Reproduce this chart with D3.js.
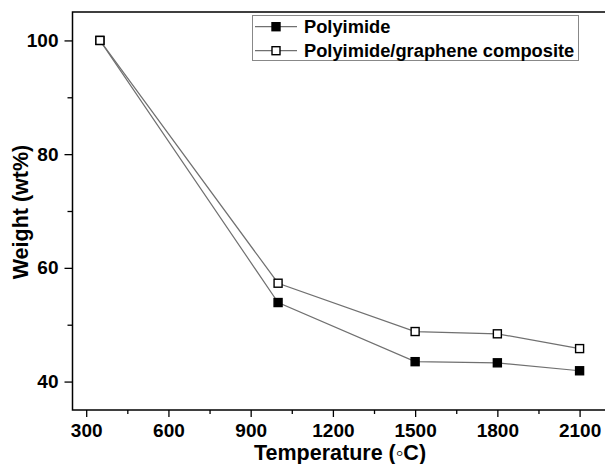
<!DOCTYPE html>
<html>
<head>
<meta charset="utf-8">
<script src="https://cdn.jsdelivr.net/npm/d3@7"></script>
<style>
  body { margin: 0; background: #fff; }
  svg { display: block; font-family: 'Liberation Sans', Arial, sans-serif; }
  .axis text { font-family: 'Liberation Sans', Arial, sans-serif; font-size: 19px; font-weight: bold; fill: #000; }
  .axis line { stroke: #000; stroke-width: 1.3; }
</style>
</head>
<body>
<svg id="chart" width="605" height="464"></svg>
<script>
// temperature (C)
var temps = [350, 1000, 1500, 1800, 2100];
// weight (wt%)
var polyimide = [100, 53.9, 43.5, 43.3, 41.9];
var composite = [100, 57.3, 48.8, 48.4, 45.8];
var seriesNames = ['Polyimide', 'Polyimide/graphene composite'];
var xTicks = [300, 600, 900, 1200, 1500, 1800, 2100];
var xMinor = [450, 750, 1050, 1350, 1650, 1950];
var yTicks = [40, 60, 80, 100];
var yMinor = [50, 70, 90];

var svg = d3.select('#chart');
var x = d3.scaleLinear().domain([250, 2200]).range([72.5, 607]);
var y = d3.scaleLinear().domain([35, 105]).range([410, 12]);

// axes
var xAxis = d3.axisBottom(x).tickValues(xTicks).tickSize(7).tickSizeOuter(0).tickPadding(7).tickFormat(d3.format('d'));
var xMinorAxis = d3.axisBottom(x).tickValues(xMinor).tickSize(4).tickFormat('');
var yAxis = d3.axisLeft(y).tickValues(yTicks).tickSize(8).tickSizeOuter(0).tickPadding(6).tickFormat(d3.format('d'));
var yMinorAxis = d3.axisLeft(y).tickValues(yMinor).tickSize(5).tickFormat('');

[[xAxis, 'translate(0,' + y(35) + ')'], [xMinorAxis, 'translate(0,' + y(35) + ')'],
 [yAxis, 'translate(' + x(250) + ',0)'], [yMinorAxis, 'translate(' + x(250) + ',0)']]
  .forEach(function (a) {
    var g = svg.append('g').attr('class', 'axis').attr('transform', a[1]).call(a[0]);
    g.attr('font-family', null).attr('font-size', null);
    g.select('.domain').remove();
  });

// frame
svg.append('rect')
  .attr('x', x(250)).attr('y', y(105))
  .attr('width', x(2200) - x(250)).attr('height', y(35) - y(105))
  .attr('fill', 'none').attr('stroke', '#000').attr('stroke-width', 1.5);

// titles
svg.append('text')
  .attr('x', 340).attr('y', 460)
  .attr('text-anchor', 'middle')
  .style('font-size', '21.5px').style('font-weight', 'bold')
  .text('Temperature (\u25E6C)');

svg.append('text')
  .attr('transform', 'translate(28,212) rotate(-90)')
  .attr('text-anchor', 'middle')
  .style('font-size', '21.5px').style('font-weight', 'bold')
  .text('Weight (wt%)');

// lines and markers
var line = d3.line().x(function (d) { return x(d[0]); }).y(function (d) { return y(d[1]); });
var series = [
  {name: seriesNames[0], values: d3.zip(temps, polyimide), fill: '#000'},
  {name: seriesNames[1], values: d3.zip(temps, composite), fill: '#fff'}
];

series.forEach(function (s) {
  svg.append('path')
    .attr('d', line(s.values))
    .attr('fill', 'none').attr('stroke', '#707070').attr('stroke-width', 1.2);
});
series.forEach(function (s) {
  svg.selectAll(null).data(s.values).enter().append('rect')
    .attr('x', function (d) { return x(d[0]) - 4; })
    .attr('y', function (d) { return y(d[1]) - 4; })
    .attr('width', 8).attr('height', 8)
    .attr('fill', s.fill).attr('stroke', '#000').attr('stroke-width', 1.4);
});

// legend
var leg = svg.append('g');
leg.append('rect')
  .attr('x', 252.5).attr('y', 15.5).attr('width', 326).attr('height', 45)
  .attr('fill', '#fff').attr('stroke', '#888').attr('stroke-width', 1);
series.forEach(function (s, i) {
  var cy = 26.7 + i * 24;
  leg.append('line').attr('x1', 255).attr('x2', 297).attr('y1', cy).attr('y2', cy)
    .attr('stroke', '#707070').attr('stroke-width', 1.2);
  leg.append('rect').attr('x', 272).attr('y', cy - 4).attr('width', 8).attr('height', 8)
    .attr('fill', s.fill).attr('stroke', '#000').attr('stroke-width', 1.4);
  leg.append('text').attr('x', 304).attr('y', cy).attr('dy', '0.36em')
    .style('font-size', '18.3px').style('font-weight', 'bold')
    .text(s.name);
});
</script>
</body>
</html>
